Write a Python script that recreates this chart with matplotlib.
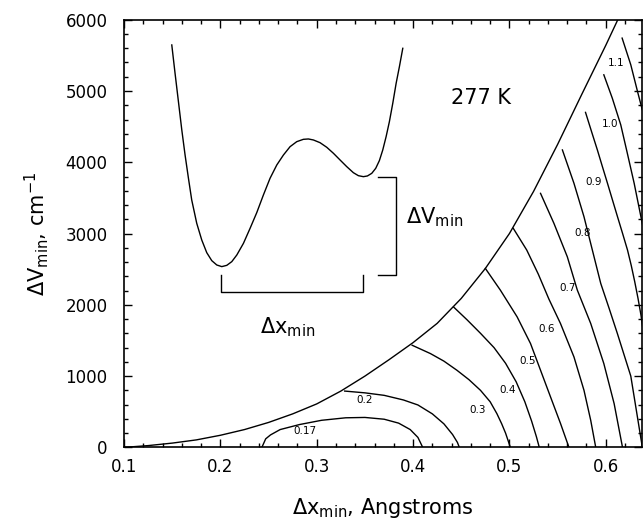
import numpy as np
import matplotlib.pyplot as plt
from matplotlib.ticker import MultipleLocator

plt.rcParams['font.family'] = 'DejaVu Sans'
plt.rcParams['mathtext.fontset'] = 'dejavusans'

# edge of the region where a second minimum exists
edge_x = [0.100, 0.125, 0.150, 0.175, 0.200, 0.225, 0.250, 0.275, 0.300, 0.325,
          0.350, 0.375, 0.400, 0.425, 0.450, 0.475, 0.500, 0.525, 0.550, 0.575,
          0.600, 0.6125]
edge_y = [0, 25, 60, 105, 170, 250, 350, 470, 610, 790,
          1000, 1230, 1470, 1740, 2090, 2510, 3000, 3590, 4250, 4950,
          5640, 6000]

# contour lines
c017_x = [0.243, 0.247, 0.252, 0.262, 0.282, 0.305, 0.330, 0.350, 0.370, 0.385, 0.397, 0.405, 0.410]
c017_y = [0, 120, 175, 250, 320, 380, 415, 420, 395, 340, 250, 140, 0]
c02_x = [0.329, 0.350, 0.370, 0.390, 0.405, 0.420, 0.432, 0.441, 0.446, 0.448]
c02_y = [790, 765, 730, 665, 595, 470, 330, 180, 70, 0]
c03_x = [0.399, 0.418, 0.432, 0.4455, 0.458, 0.470, 0.480, 0.487, 0.492, 0.496, 0.501]
c03_y = [1433, 1316, 1210, 1082, 950, 800, 640, 473, 330, 200, 0]
c04_x = [0.442, 0.456, 0.470, 0.484, 0.496, 0.507, 0.516, 0.523, 0.528, 0.531]
c04_y = [1970, 1790, 1600, 1400, 1180, 920, 640, 370, 150, 0]
c05_x = [0.475, 0.4906, 0.508, 0.5219, 0.5323, 0.5427, 0.5531, 0.5618]
c05_y = [2511, 2206, 1831, 1457, 1082, 707, 333, 0]
c06_x = [0.504, 0.518, 0.530, 0.541, 0.553, 0.567, 0.5774, 0.5844, 0.5896]
c06_y = [3073, 2768, 2430, 2080, 1738, 1269, 801, 379, 0]
c07_x = [0.5323, 0.5462, 0.5601, 0.5705, 0.5844, 0.598, 0.6087, 0.6174]
c07_y = [3564, 3143, 2674, 2206, 1738, 1176, 614, 0]
c08_x = [0.555, 0.567, 0.5774, 0.5861, 0.5948, 0.6035, 0.612, 0.619, 0.626, 0.632, 0.638]
c08_y = [4173, 3705, 3236, 2768, 2300, 1950, 1600, 1300, 1000, 500, 0]
c09_x = [0.579, 0.5855, 0.5913, 0.5965, 0.6018, 0.607, 0.6122, 0.6175, 0.6226, 0.6265,
         0.6300, 0.6335, 0.6365, 0.639]
c09_y = [4700, 4420, 4173, 3940, 3705, 3470, 3236, 3000, 2768, 2550,
         2330, 2090, 1860, 1620]
c10_x = [0.598, 0.6068, 0.6156, 0.622, 0.6295, 0.6365, 0.640]
c10_y = [5227, 4899, 4524, 4150, 3705, 3236, 3000]
c11_x = [0.617, 0.626, 0.633, 0.6375, 0.640]
c11_y = [5742, 5367, 4992, 4758, 4650]

levels = ['0.17', '0.2', '0.3', '0.4', '0.5', '0.6', '0.7', '0.8', '0.9', '1.0', '1.1']

# schematic double-well potential (inset sketch)
well_x = [0.1495, 0.1529, 0.1564, 0.1599, 0.1633, 0.1668, 0.1702, 0.1754, 0.1806, 0.1858,
          0.1910, 0.1962, 0.2014, 0.2066, 0.2118, 0.2170, 0.2239, 0.2308, 0.2377, 0.2446,
          0.2515, 0.2585, 0.2654, 0.2723, 0.2792, 0.2861, 0.2913, 0.2965, 0.3034, 0.3104,
          0.3173, 0.3242, 0.3311, 0.3380, 0.3432, 0.3484, 0.3526, 0.3571, 0.3612, 0.3650,
          0.3685, 0.3720, 0.3754, 0.3789, 0.3824, 0.3858, 0.3893]
well_y = [5646, 5248, 4851, 4453, 4102, 3775, 3471, 3144, 2910, 2732,
          2620, 2559, 2536, 2554, 2606, 2699, 2863, 3074, 3293, 3541,
          3775, 3962, 4102, 4219, 4289, 4322, 4327, 4313, 4275, 4210,
          4126, 4032, 3939, 3854, 3812, 3798, 3808, 3845, 3915, 4023,
          4172, 4360, 4570, 4827, 5108, 5342, 5599]

fig = plt.figure(figsize=(6.43, 5.19), dpi=100)
ax = fig.add_axes([0.193, 0.138, 0.806, 0.824])

ax.plot(edge_x, edge_y, color='black', lw=1.0)

lines = [(c017_x, c017_y), (c02_x, c02_y), (c03_x, c03_y), (c04_x, c04_y),
         (c05_x, c05_y), (c06_x, c06_y), (c07_x, c07_y), (c08_x, c08_y),
         (c09_x, c09_y), (c10_x, c10_y), (c11_x, c11_y)]
for xs, ys in lines:
    ax.plot(xs, ys, color='black', lw=1.0)

# where the contour labels sit
label_pos = [(0.288, 225), (0.350, 660), (0.4673, 520), (0.4985, 810), (0.5186, 1208),
             (0.539, 1667), (0.5605, 2243), (0.5763, 3002), (0.5878, 3727),
             (0.604, 4538), (0.6104, 5391)]
for lab, (lx, ly) in zip(levels, label_pos):
    ax.text(lx, ly, lab, fontsize=7.5, ha='center', va='center')

# inset sketch
ax.plot(well_x, well_y, color='black', lw=1.0)
ax.plot([0.2004, 0.2004, 0.3476, 0.3476], [2417, 2182, 2182, 2417], color='black', lw=1.0)
ax.plot([0.3638, 0.382, 0.382, 0.3638], [3798, 3798, 2417, 2417], color='black', lw=1.0)
ax.text(0.3927, 3143, r'$\Delta\mathrm{V}_{\mathrm{min}}$', fontsize=15, ha='left', va='baseline')
ax.text(0.241, 1597, r'$\Delta\mathrm{x}_{\mathrm{min}}$', fontsize=15, ha='left', va='baseline')
ax.text(0.4396, 4819, '277 K', fontsize=15, ha='left', va='baseline')

ax.set_xlim(0.1, 0.638)
ax.set_ylim(0, 6000)
ax.xaxis.set_major_locator(MultipleLocator(0.1))
ax.xaxis.set_minor_locator(MultipleLocator(0.02))
ax.yaxis.set_major_locator(MultipleLocator(1000))
ax.yaxis.set_minor_locator(MultipleLocator(200))
ax.tick_params(which='both', direction='in', top=True, right=True, width=1.0)
ax.tick_params(which='major', length=6, labelsize=12)
ax.tick_params(which='minor', length=3)
ax.tick_params(axis='x', which='major', pad=8)
ax.tick_params(axis='y', which='major', pad=12)
ax.set_xticks([0.1, 0.2, 0.3, 0.4, 0.5, 0.6])
ax.set_xticklabels(['0.1', '0.2', '0.3', '0.4', '0.5', '0.6'])
for s in ax.spines.values():
    s.set_linewidth(1.2)

ax.set_xlabel(r'$\Delta\mathrm{x}_{\mathrm{min}}$, Angstroms', fontsize=15, labelpad=14)
ax.set_ylabel(r'$\Delta\mathrm{V}_{\mathrm{min}}$, cm$^{-1}$', fontsize=15, labelpad=10)

fig.savefig('out.png', dpi=100)
